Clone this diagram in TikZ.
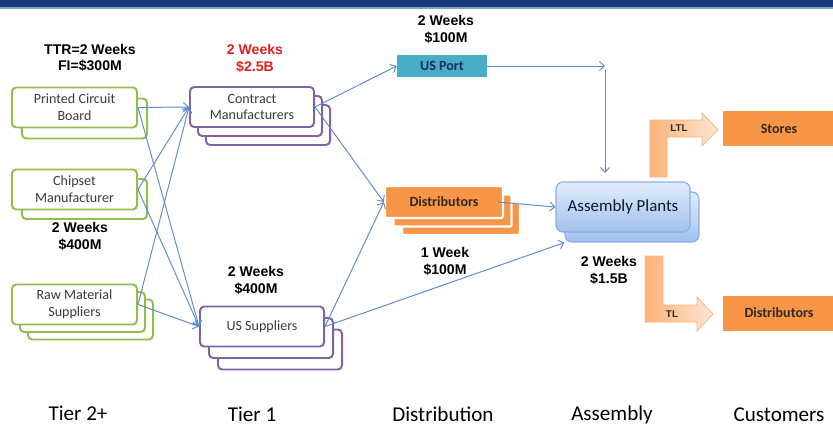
\documentclass[tikz,border=0pt]{standalone}
\usepackage{fontspec}
\setmainfont{Carlito}
\newfontfamily\headfont{Liberation Sans}
\usetikzlibrary{arrows.meta}

\definecolor{barnavy}{RGB}{27,58,122}
\definecolor{barline}{RGB}{130,160,210}
\definecolor{tiergreen}{RGB}{146,190,80}
\definecolor{tierpurple}{RGB}{128,100,162}
\definecolor{distorange}{RGB}{247,150,70}
\definecolor{portteal}{RGB}{75,172,198}
\definecolor{flowblue}{RGB}{95,140,210}
\definecolor{figred}{RGB}{225,30,30}
\definecolor{boxtext}{RGB}{60,60,60}
\definecolor{darktext}{RGB}{50,40,30}
\definecolor{plantedge}{RGB}{140,175,225}
\definecolor{planttop}{RGB}{225,237,252}
\definecolor{plantbottom}{RGB}{160,192,238}
\definecolor{shipdark}{RGB}{249,178,122}
\definecolor{shiplight}{RGB}{253,230,210}

\tikzset{
    >={Straight Barb[length=3.5pt,width=6.5pt]},
    greenbox/.style={draw=tiergreen, line width=1.4pt, fill=white, rounded corners=3pt,
        minimum width=3.125cm, minimum height=1cm, align=center, text=boxtext,
        font=\fontsize{10}{12}\selectfont},
    purplebox/.style={greenbox, draw=tierpurple, minimum width=3.1cm},
    distbox/.style={fill=distorange, draw=white, line width=1.6pt, rounded corners=1pt,
        minimum width=2.95cm, minimum height=0.8cm, text=darktext,
        font=\bfseries\fontsize{10}{12}\selectfont},
    portbox/.style={fill=portteal, minimum width=2.25cm, minimum height=0.55cm,
        text=barnavy!80!black, font=\bfseries\fontsize{10}{12}\selectfont},
    plantbox/.style={draw=plantedge, line width=0.8pt, top color=planttop, bottom color=plantbottom,
        rounded corners=5pt, minimum width=3.35cm, minimum height=1.25cm,
        text=barnavy!40!black, font=\fontsize{12}{14}\selectfont},
    custbox/.style={fill=distorange, minimum width=2.8cm, minimum height=0.875cm,
        text=darktext, font=\bfseries\fontsize{10}{12}\selectfont},
    bentarrow/.style={left color=shipdark, right color=shiplight, draw=shipdark, line width=0.5pt},
    shiplabel/.style={text=darktext, font=\headfont\bfseries\fontsize{7}{8}\selectfont},
    figure/.style={align=center, font=\headfont\bfseries\fontsize{10}{11.5}\selectfont},
    tierlabel/.style={anchor=base, font=\fontsize{15}{18}\selectfont},
    flow/.style={->, draw=flowblue, line width=0.7pt}
}

\begin{document}
\begin{tikzpicture}[x=0.025cm, y=-0.025cm]
    \useasboundingbox (0,0) rectangle (833,428);
    \fill[barnavy] (0,0) rectangle (833,7);
    \fill[barline] (0,7) rectangle (833,9);

    % Tier 2+
    \node[greenbox] (pcb-1) at (84.5,118.5) {};
    \node[greenbox] (pcb) at (74.5,107.5) {Printed Circuit\\Board};
    \node[greenbox] (chip-1) at (84.5,199) {};
    \node[greenbox] (chip) at (74.5,189.5) {Chipset\\Manufacturer};
    \foreach \d in {2,1} \node[greenbox] (raw-\d) at (74.5+8*\d,304.5+7.5*\d) {};
    \node[greenbox] (raw) at (74.5,304.5) {Raw Material\\Suppliers};

    % Tier 1
    \foreach \d in {2,1} \node[purplebox] (cm-\d) at (252+8*\d,107+9*\d) {};
    \node[purplebox] (cm) at (252,107) {Contract\\Manufacturers};
    \foreach \d in {2,1} \node[purplebox] (us-\d) at (262+9*\d,326.5+11.5*\d) {};
    \node[purplebox] (us) at (262,326.5) {US Suppliers};

    % Distribution
    \node[portbox] (port) at (442,66) {US Port};
    \foreach \d in {2,1} \node[distbox] (dist-\d) at (444+8.5*\d,202+8.5*\d) {};
    \node[distbox] (dist) at (444,202) {Distributors};

    % Assembly
    \node[plantbox] (plants-1) at (632,217) {};
    \node[plantbox] (plants) at (623,207) {Assembly Plants};

    % Customers
    \node[custbox] (stores) at (779,128.5) {Stores};
    \node[custbox] (customers) at (779,313) {Distributors};
    \path[bentarrow] (650,177) -- (650,120) -- (702,120) -- (702,113) -- (718,129.5)
        -- (702,146) -- (702,137) -- (667,137) -- (667,177) -- cycle;
    \path[bentarrow] (645,256) -- (663,256) -- (663,305) -- (697,305) -- (697,297)
        -- (713,314) -- (697,331) -- (697,322) -- (645,322) -- cycle;
    \node[shiplabel] (ltl) at (679,128) {LTL};
    \node[shiplabel] (tl) at (672,314) {TL};

    % lead times and inventory
    \node[figure] (ttr) at (90,58) {TTR=2 Weeks\\FI=\$300M};
    \node[figure, text=figred] (cm-fig) at (255,58.5) {2 Weeks\\\$2.5B};
    \node[figure] (port-fig) at (446,29.5) {2 Weeks\\\$100M};
    \node[figure] (chip-fig) at (80,236.5) {2 Weeks\\\$400M};
    \node[figure] (us-fig) at (256,280.5) {2 Weeks\\\$400M};
    \node[figure] (dist-fig) at (445,261.5) {1 Week\\\$100M};
    \node[figure] (plants-fig) at (609,270.5) {2 Weeks\\\$1.5B};

    \node[tierlabel] (tier2) at (78,420) {Tier 2+};
    \node[tierlabel] (tier1) at (252,421) {Tier 1};
    \node[tierlabel] (distribution) at (443,421) {Distribution};
    \node[tierlabel] (assembly) at (612,420) {Assembly};
    \node[tierlabel] (customer) at (779,421) {Customers};

    \foreach \src in {pcb, chip, raw} {
        \draw[flow] (\src.east) -- (cm.west);
        \draw[flow] (\src.east) -- (us.west);
    }
    \draw[flow] (cm.east) -- (port.west);
    \draw[flow] (cm.east) -- (dist.west);
    \draw[flow] (us.east) -- (dist.west);
    \draw[flow] (us.east) -- (plants-1.south west);
    \draw[flow] ([xshift=-0.15cm]dist.east) -- (plants.west);
    \coordinate (bend) at (605,66);
    \coordinate (drop) at (605,173);
    \draw[flow] (port.east) -- (bend);
    \draw[flow, shorten <=3pt] (bend) -- (drop);
\end{tikzpicture}
\end{document}
